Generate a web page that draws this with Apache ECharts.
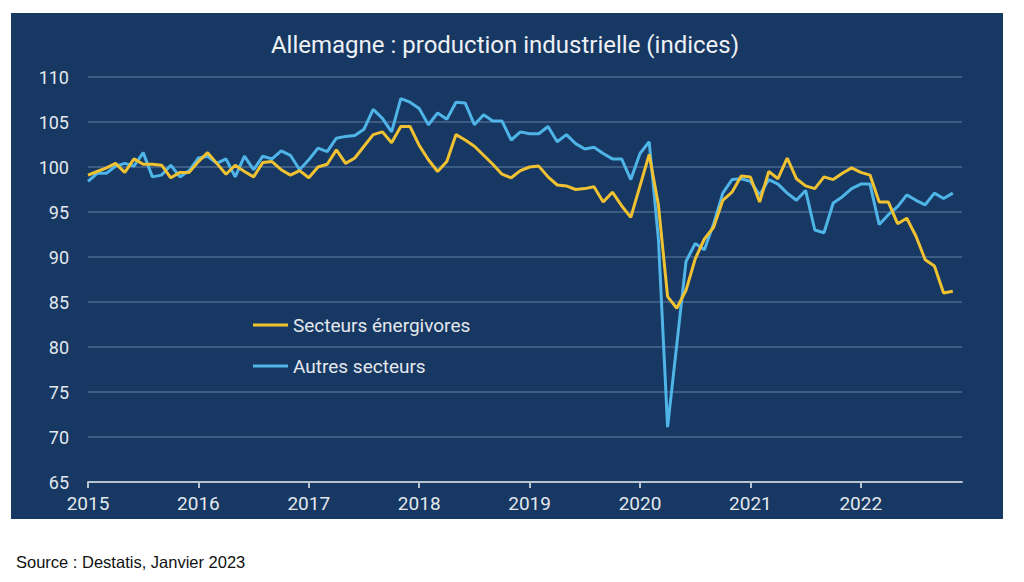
<!DOCTYPE html>
<html>
<head>
<meta charset="utf-8">
<script src="https://cdn.jsdelivr.net/npm/echarts@6/dist/echarts.min.js"></script>
<style>
html,body{margin:0;padding:0;background:#ffffff;width:1024px;height:582px;overflow:hidden;}
#panel{position:absolute;left:11px;top:13px;width:992px;height:506px;background:#163862;}
#chart{position:absolute;left:0;top:0;width:1024px;height:582px;}
</style>
</head>
<body>
<div id="panel"></div>
<div id="chart"></div>
<script>
// Years shown on the axis (monthly data Jan 2015 – Nov 2022)
const years = ['2015','2016','2017','2018','2019','2020','2021','2022'];
const yTicks = [65,70,75,80,85,90,95,100,105,110];

// Secteurs énergivores (monthly index)
const energivores = [
  99.1, 99.5, 99.9,100.4, 99.4,100.9,100.3,100.3,100.2, 98.8, 99.4, 99.4,
 100.6,101.6,100.4, 99.2,100.2, 99.5, 98.9,100.5,100.6, 99.7, 99.1, 99.6,
  98.8,100.0,100.3,101.9,100.4,101.0,102.3,103.6,103.9,102.7,104.5,104.5,
 102.4,100.8, 99.5,100.6,103.6,103.0,102.3,101.3,100.3, 99.2, 98.8, 99.6,
 100.0,100.1, 98.9, 98.0, 97.9, 97.5, 97.6, 97.8, 96.1, 97.2, 95.7, 94.4,
  97.9,101.4, 95.8, 85.6, 84.3, 86.3, 89.8, 92.0, 93.3, 96.3, 97.2, 99.0,
  98.9, 96.1, 99.5, 98.7,101.0, 98.7, 97.9, 97.6, 98.9, 98.6, 99.3, 99.9,
  99.4, 99.1, 96.1, 96.1, 93.7, 94.3, 92.3, 89.7, 89.0, 86.0, 86.2
];

// Autres secteurs (monthly index)
const autres = [
  98.4, 99.3, 99.3,100.1,100.4,100.1,101.6, 98.9, 99.1,100.2, 98.9, 99.6,
 101.0,101.2,100.4,100.9, 98.9,101.2, 99.7,101.2,100.9,101.8,101.3, 99.7,
 100.8,102.1,101.7,103.2,103.4,103.5,104.2,106.4,105.4,103.9,107.6,107.2,
 106.5,104.7,106.0,105.3,107.2,107.1,104.7,105.8,105.1,105.1,103.0,103.9,
 103.7,103.7,104.5,102.8,103.6,102.6,102.0,102.2,101.5,100.9,100.9, 98.6,
 101.5,102.8, 92.0, 71.1, 80.3, 89.5, 91.5, 90.8, 93.7, 97.1, 98.6, 98.7,
  98.4, 96.9, 98.6, 98.1, 97.1, 96.3, 97.4, 93.0, 92.7, 96.0, 96.7, 97.6,
  98.1, 98.1, 93.6, 94.7, 95.6, 96.9, 96.3, 95.8, 97.1, 96.5, 97.1
];

const seriesNames = ['Secteurs énergivores','Autres secteurs'];

// month categories built from the year list
const months = [];
years.forEach(y => { for (let m = 1; m <= 12; m++) months.push(y + '-' + String(m).padStart(2,'0')); });

const chart = echarts.init(document.getElementById('chart'), null, {renderer:'svg'});
const labelColor = '#e4e8ee';
chart.setOption({
  backgroundColor: 'transparent',
  animation: false,
  title: [{
    text: 'Allemagne : production industrielle (indices)',
    left: 505,
    textAlign: 'center',
    top: 33,
    padding: 0,
    textStyle: {color:'#eef1f5', fontSize:24, fontWeight:'normal', fontFamily:'Roboto'}
  },{
    text: 'Source : Destatis, Janvier 2023',
    left: 16,
    top: 553,
    padding: 0,
    textStyle: {color:'#111111', fontSize:16.5, fontWeight:'normal', fontFamily:'Liberation Sans'}
  }],
  legend: {
    orient: 'vertical',
    left: 253,
    top: 314,
    padding: 0,
    icon: 'rect',
    itemWidth: 35,
    itemHeight: 3,
    itemGap: 19,
    textStyle: {color: labelColor, fontSize: 19, fontFamily: 'Roboto', lineHeight: 22},
    data: seriesNames
  },
  grid: {left: 88, right: 62, top: 77, bottom: 100, containLabel: false},
  xAxis: {
    type: 'category',
    data: months,
    boundaryGap: false,
    axisLine: {show: true, lineStyle: {color: '#b7c2cf', width: 2}},
    axisTick: {show: true, length: 6, lineStyle: {color:'#b7c2cf', width: 2},
      interval: (i) => i % 12 === 0},
    axisLabel: {color: labelColor, fontSize: 19, fontFamily: 'Roboto', margin: 12,
      interval: (i) => i % 12 === 0,
      formatter: (v) => v.slice(0,4)},
    splitLine: {show: false}
  },
  yAxis: {
    type: 'value',
    min: yTicks[0],
    max: yTicks[yTicks.length-1],
    interval: 5,
    axisLine: {show: false},
    axisTick: {show: false},
    axisLabel: {color: labelColor, fontSize: 18, fontFamily: 'Roboto', margin: 19},
    splitLine: {show: true, lineStyle: {color: '#4a6890', width: 1.5}}
  },
  series: [{
    name: seriesNames[0],
    type: 'line',
    data: energivores,
    symbol: 'none',
    lineStyle: {color: '#f0c232', width: 3},
    itemStyle: {color: '#f0c232'},
    z: 3
  },{
    name: seriesNames[1],
    type: 'line',
    data: autres,
    symbol: 'none',
    lineStyle: {color: '#4fb4e8', width: 3},
    itemStyle: {color: '#4fb4e8'},
    z: 2
  }]
});
</script>
</body>
</html>
